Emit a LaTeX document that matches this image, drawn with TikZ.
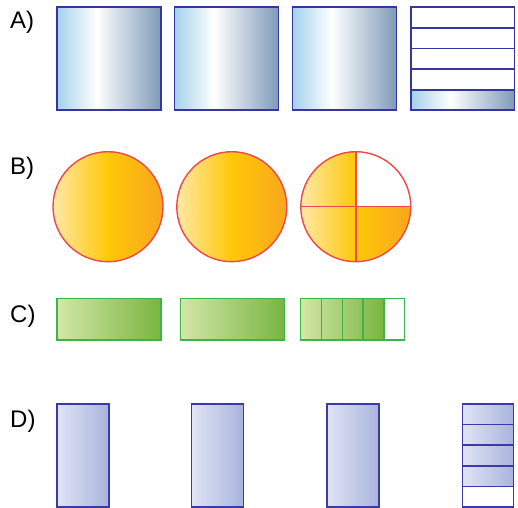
\documentclass[tikz,border=0pt]{standalone}
\usepackage{fontspec}
\setmainfont{Liberation Sans}
\definecolor{Aleft}{HTML}{A4D2EC}
\definecolor{Aright}{HTML}{7F9AB8}
\definecolor{Aline}{HTML}{3636A0}
\definecolor{Bleft}{HTML}{FFE9A6}
\definecolor{Bmid}{HTML}{FFC808}
\definecolor{Bright}{HTML}{F8A61E}
\definecolor{Bline}{HTML}{F04848}
\definecolor{Cleft}{HTML}{D4E6A8}
\definecolor{Cright}{HTML}{78B640}
\definecolor{Cline}{HTML}{3CB44A}
\definecolor{Dleft}{HTML}{E0E4F4}
\definecolor{Dright}{HTML}{A8B4DC}
\definecolor{Dline}{HTML}{3A3AA8}
\pgfdeclarehorizontalshading{ashade}{100bp}{color(0bp)=(Aleft); color(25bp)=(Aleft); color(44bp)=(white); color(75bp)=(Aright); color(100bp)=(Aright)}
\pgfdeclarehorizontalshading{bshade}{100bp}{color(0bp)=(Bleft); color(25bp)=(Bleft); color(50bp)=(Bmid); color(75bp)=(Bright); color(100bp)=(Bright)}
\pgfdeclarehorizontalshading{cshade}{100bp}{color(0bp)=(Cleft); color(25bp)=(Cleft); color(75bp)=(Cright); color(100bp)=(Cright)}
\pgfdeclarehorizontalshading{dshade}{100bp}{color(0bp)=(Dleft); color(25bp)=(Dleft); color(75bp)=(Dright); color(100bp)=(Dright)}
\tikzset{
  lab/.style={anchor=base west, inner sep=0pt, font=\fontsize{24}{24}\selectfont},
  abox/.style={draw=Aline, line width=1.6pt},
  afill/.style={shading=ashade},
  bcirc/.style={draw=Bline, line width=1.4pt},
  bfill/.style={shading=bshade},
  cbox/.style={draw=Cline, line width=1.4pt},
  cfill/.style={shading=cshade},
  dbox/.style={draw=Dline, line width=1.5pt},
  dfill/.style={shading=dshade}
}
\begin{document}
\begin{tikzpicture}[x=1pt,y=-1pt]
\useasboundingbox (0,0) rectangle (518,507);
% labels
\node[lab] (la) at (10,28) {A)};
\node[lab] (lb) at (10,174) {B)};
\node[lab] (lc) at (10,322) {C)};
\node[lab] (ld) at (10,427) {D)};
% row A
\foreach \x in {57,174.5,292.5}{
  \fill[afill] (\x,7) rectangle ++(104,103);
  \draw[abox] (\x,7) rectangle ++(104,103);
}
\fill[afill] (411,89.7) rectangle (514.5,110);
\draw[abox] (411,7) rectangle (514.5,110);
\foreach \y in {27.7,48.3,69,89.7}{
  \draw[abox] (411,\y) -- (514.5,\y);
}
% row B
\foreach \x in {108,231.8}{
  \fill[bfill] (\x,206.7) circle (55);
  \draw[bcirc] (\x,206.7) circle (55);
}
\fill[bfill] (355.8,206.7) circle (55);
\begin{scope}
  \clip (355.8,150) rectangle (412,206.7);
  \fill[white] (355.8,206.7) circle (55.5);
\end{scope}
\draw[bcirc] (355.8,206.7) circle (55);
\draw[bcirc] (300.8,206.7) -- (410.8,206.7);
\draw[bcirc] (355.8,151.7) -- (355.8,261.7);
% row C
\foreach \x in {57,180.3}{
  \fill[cfill] (\x,298.3) rectangle ++(104,41.7);
  \draw[cbox] (\x,298.3) rectangle ++(104,41.7);
}
\fill[cfill] (300.7,298.3) rectangle (383.9,340);
\draw[cbox] (300.7,298.3) rectangle (404.7,340);
\foreach \x in {321.5,342.3,363.1,383.9}{
  \draw[cbox] (\x,298.3) -- (\x,340);
}
% row D
\foreach \x in {57,191.7,327}{
  \fill[dfill] (\x,404) rectangle ++(52,103);
  \draw[dbox] (\x,404) rectangle ++(52,103);
}
\fill[dfill] (462.3,404) rectangle (513.7,486.4);
\draw[dbox] (462.3,404) rectangle (513.7,507);
\foreach \y in {424.6,445.2,465.8,486.4}{
  \draw[dbox] (462.3,\y) -- (513.7,\y);
}
\end{tikzpicture}
\end{document}
